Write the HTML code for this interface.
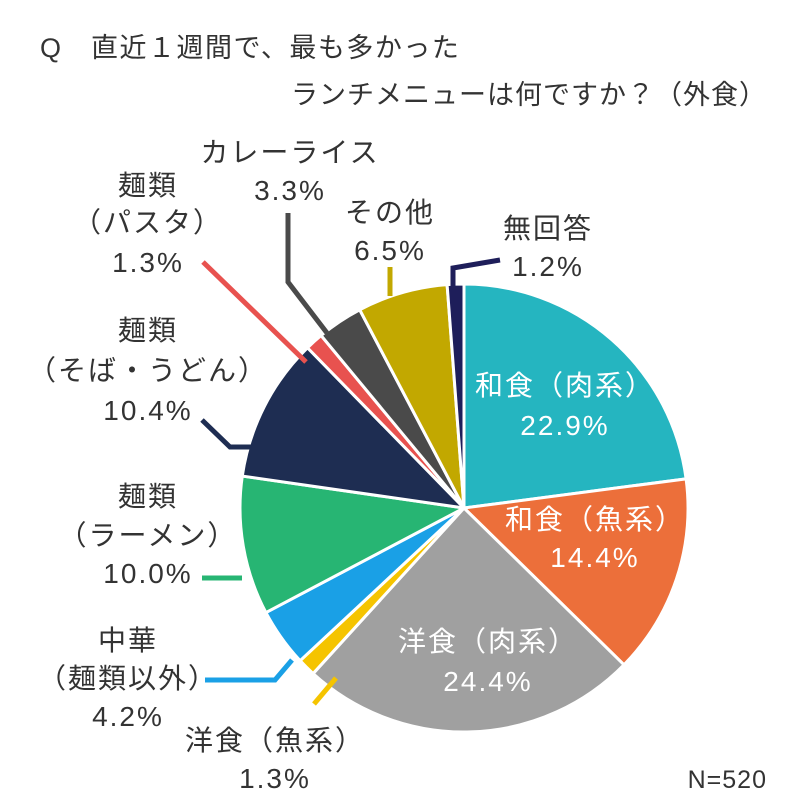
<!DOCTYPE html>
<html><head><meta charset="utf-8"><style>
body{margin:0;background:#fff}
svg text{font-family:"Liberation Sans","Noto Sans CJK JP",sans-serif;fill:#333;font-size:28px;letter-spacing:2px}
</style></head><body>
<svg id="s" width="800" height="800" xmlns="http://www.w3.org/2000/svg">
<g id="pie"></g>
<g fill="none" stroke-width="5">
<polyline points="453,290 453,268 500,260" stroke="#1e1e5a"/>
<polyline points="390,296 390,267" stroke="#c2a800"/>
<polyline points="327,333 288,282 288,213" stroke="#4a4a4a"/>
<polyline points="306,362 203,262" stroke="#e8524f"/>
<polyline points="258,447 230,447 202,420" stroke="#1e2d52"/>
<polyline points="242,578 202,578" stroke="#27b573"/>
<polyline points="292,660 275,680 205,680" stroke="#1aa0e6"/>
<polyline points="336,678 314,704" stroke="#f5c400"/>
</g>
<text x="40" y="57" style="font-size:27px;letter-spacing:1.5px">Q　直近１週間で、最も多かった</text>
<text x="767" y="104" text-anchor="end" style="font-size:27px;letter-spacing:1px">ランチメニューは何ですか？（外食）</text>
<g text-anchor="middle">
<text x="148" y="195">麺類</text><text x="148" y="232">（パスタ）</text><text x="148" y="272">1.3%</text>
<text x="290" y="162">カレーライス</text><text x="290" y="200">3.3%</text>
<text x="390" y="222">その他</text><text x="390" y="260">6.5%</text>
<text x="548" y="238">無回答</text><text x="548" y="276">1.2%</text>
<text x="148" y="340">麺類</text><text x="148" y="380">（そば・うどん）</text><text x="148" y="420">10.4%</text>
<text x="148" y="506">麺類</text><text x="148" y="545">（ラーメン）</text><text x="148" y="583">10.0%</text>
<text x="128" y="650">中華</text><text x="128" y="688">（麺類以外）</text><text x="128" y="726">4.2%</text>
<text x="275" y="750">洋食（魚系）</text><text x="275" y="788">1.3%</text>
<text x="565" y="395" style="fill:#fff">和食（肉系）</text><text x="565" y="435" style="fill:#fff">22.9%</text>
<text x="595" y="529" style="fill:#fff">和食（魚系）</text><text x="595" y="567" style="fill:#fff">14.4%</text>
<text x="488" y="651" style="fill:#fff">洋食（肉系）</text><text x="488" y="691" style="fill:#fff">24.4%</text>
</g>
<text x="767" y="788" text-anchor="end" style="font-size:25px;letter-spacing:1px">N=520</text>
</svg>
<script>
var d=[[22.9,"#25b5c0"],[14.4,"#ec6f3a"],[24.4,"#a0a0a0"],[1.3,"#f5c400"],[4.2,"#1aa0e6"],[10.0,"#27b573"],[10.4,"#1e2d52"],[1.3,"#e8524f"],[3.3,"#4a4a4a"],[6.5,"#c2a800"],[1.2,"#1e1e5a"]];
var cx=464,cy=508,r=224,a=0,h="",tot=99.9;
d.forEach(function(s){var b=a+s[0]/tot*2*Math.PI;
var x1=cx+r*Math.sin(a),y1=cy-r*Math.cos(a),x2=cx+r*Math.sin(b),y2=cy-r*Math.cos(b);
h+='<path d="M'+cx+','+cy+'L'+x1+','+y1+'A'+r+','+r+' 0 '+(b-a>Math.PI?1:0)+',1 '+x2+','+y2+'Z" fill="'+s[1]+'" stroke="#fff" stroke-width="3" stroke-linejoin="round"/>';a=b;});
document.getElementById("pie").innerHTML=h;
</script>
</body></html>
